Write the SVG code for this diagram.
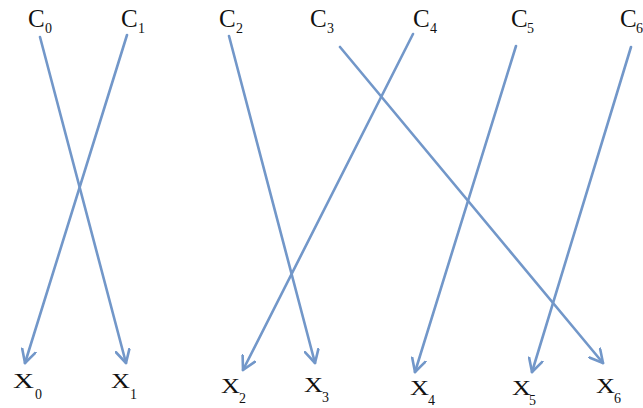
<svg xmlns="http://www.w3.org/2000/svg" width="643" height="408" viewBox="0 0 643 408">
<style>
text{font-family:"Liberation Serif","DejaVu Serif","Times New Roman",serif;fill:#111}
.c{font-size:25px}
.x{font-size:22px}
.s{font-size:14px}
.edge{stroke:#7297c9;stroke-width:2.6;fill:none;stroke-linecap:round;marker-end:url(#arr)}
</style>
<defs>
<marker id="arr" viewBox="-14 -8 16 16" markerWidth="16" markerHeight="16" refX="0" refY="0" orient="auto" markerUnits="userSpaceOnUse">
<polyline points="-13,-7 0,0 -13,7" fill="none" stroke="#7297c9" stroke-width="2.6" stroke-linecap="round" stroke-linejoin="round"/>
</marker>
</defs>
<g id="connectors">
<line class="edge" x1="40" y1="37" x2="126" y2="363"/>
<line class="edge" x1="127" y1="35" x2="25" y2="363"/>
<line class="edge" x1="229" y1="36" x2="315" y2="363"/>
<line class="edge" x1="413" y1="34" x2="243" y2="370"/>
<line class="edge" x1="340" y1="47" x2="603" y2="363"/>
<line class="edge" x1="516" y1="46" x2="415" y2="372"/>
<line class="edge" x1="631" y1="47" x2="532" y2="372"/>
</g>
<g id="C0"><text class="c" x="28" y="27">C</text><text class="s" x="45" y="33">0</text></g>
<g id="C1"><text class="c" x="121" y="27">C</text><text class="s" x="138" y="33">1</text></g>
<g id="C2"><text class="c" x="219" y="27">C</text><text class="s" x="236" y="33">2</text></g>
<g id="C3"><text class="c" x="310" y="27">C</text><text class="s" x="327" y="33">3</text></g>
<g id="C4"><text class="c" x="413" y="27">C</text><text class="s" x="430" y="33">4</text></g>
<g id="C5"><text class="c" x="511" y="27">C</text><text class="s" x="527" y="33">5</text></g>
<g id="C6"><text class="c" x="620" y="27">C</text><text class="s" x="636" y="33">6</text></g>
<g id="X0"><text class="x" x="13" y="388" textLength="21" lengthAdjust="spacingAndGlyphs">X</text><text class="s" x="35" y="399">0</text></g>
<g id="X1"><text class="x" x="111" y="388" textLength="19" lengthAdjust="spacingAndGlyphs">X</text><text class="s" x="130" y="399">1</text></g>
<g id="X2"><text class="x" x="221" y="393" textLength="19" lengthAdjust="spacingAndGlyphs">X</text><text class="s" x="239" y="403">2</text></g>
<g id="X3"><text class="x" x="304" y="392" textLength="19" lengthAdjust="spacingAndGlyphs">X</text><text class="s" x="322" y="402">3</text></g>
<g id="X4"><text class="x" x="410" y="395" textLength="19" lengthAdjust="spacingAndGlyphs">X</text><text class="s" x="428" y="405">4</text></g>
<g id="X5"><text class="x" x="512" y="395" textLength="19" lengthAdjust="spacingAndGlyphs">X</text><text class="s" x="529" y="405">5</text></g>
<g id="X6"><text class="x" x="596" y="393" textLength="19" lengthAdjust="spacingAndGlyphs">X</text><text class="s" x="614" y="403">6</text></g>
</svg>
